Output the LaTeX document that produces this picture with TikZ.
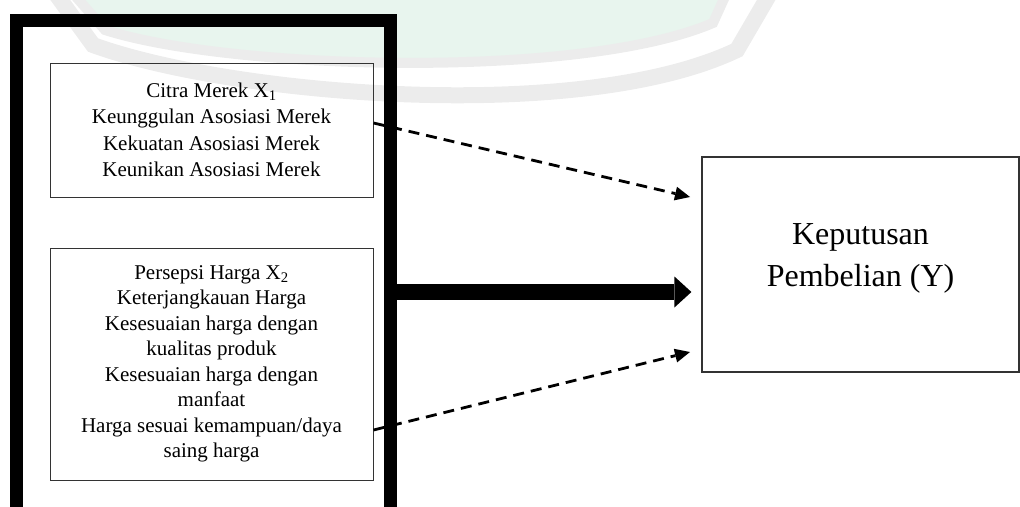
\documentclass[tikz,border=0pt]{standalone}
\usepackage{fontspec}
\setmainfont{Liberation Serif}
\usetikzlibrary{arrows.meta}
\definecolor{wmgray}{RGB}{236,236,236}
\definecolor{wmgreen}{RGB}{232,245,238}
\begin{document}
\begin{tikzpicture}[x=1pt,y=-1pt,
  srcbox/.style={draw=black!80, line width=1pt, minimum width=323pt, align=center, inner sep=0pt},
  ybox/.style={draw=black!80, line width=1.2pt, minimum width=317pt, minimum height=215pt, inner sep=0pt},
  dasharrow/.style={line width=2.8pt, dash pattern=on 11pt off 7pt, -{Triangle[length=15pt,width=14pt,line width=0pt]}},
  thickarrow/.style={line width=16pt, -{Triangle[length=17pt,width=31pt,line width=0pt]}}]
\useasboundingbox (0,0) rectangle (1020,506);
% watermark
\draw[wmgray, line width=16pt] (53,-10) -- (93,45) .. controls (230,95) and (580,125) .. (737,50) -- (772,-10);
\filldraw[fill=wmgreen, draw=wmgray, line width=10pt] (70,-10) -- (105,30) .. controls (230,70) and (580,80) .. (713,23) -- (728,-10) -- cycle;
% frame
\node[draw, line width=13pt, minimum width=373.5pt, minimum height=500pt, inner sep=0pt] (frame) at (203.25,270) {};
% boxes
\node[srcbox, minimum height=134pt, font=\fontsize{21}{26.5}\selectfont] (b1) at (211.5,130)
  {Citra Merek X\textsubscript{1}\\Keunggulan Asosiasi Merek\\Kekuatan Asosiasi Merek\\Keunikan Asosiasi Merek};
\node[srcbox, minimum height=232pt, font=\fontsize{21}{25.5}\selectfont] (b2) at (211.5,364)
  {Persepsi Harga X\textsubscript{2}\\Keterjangkauan Harga\\Kesesuaian harga dengan\\kualitas produk\\Kesesuaian harga dengan\\manfaat\\Harga sesuai kemampuan/daya\\saing harga};
\node[ybox] (Y) at (860.5,264.5) {};
\node[font=\fontsize{32}{42}\selectfont, align=center, inner sep=0pt] (Ytext) at ([yshift=6pt]Y.center) {Keputusan\\Pembelian (Y)};
% connectors
\coordinate (ty) at (0,292);
\coordinate (e1) at (690,197);
\coordinate (e2) at (690,352);
\draw[thickarrow, shorten >=10pt] (frame.east |- ty) -- (Y.west |- ty);
\draw[dasharrow] ([yshift=7pt]b1.east) -- (e1);
\draw[dasharrow] ([yshift=-66pt]b2.east) -- (e2);
\end{tikzpicture}
\end{document}
